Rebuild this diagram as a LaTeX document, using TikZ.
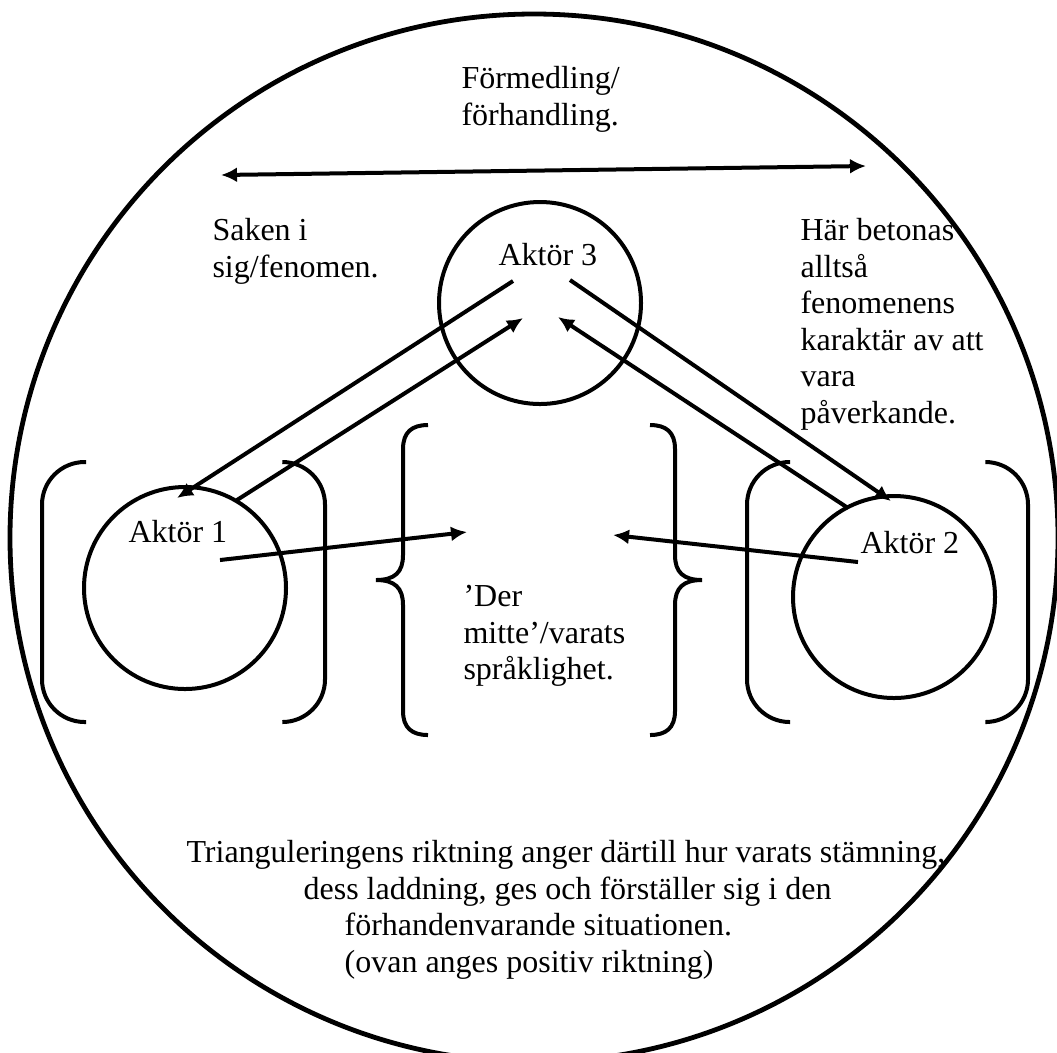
\documentclass[tikz,border=0pt]{standalone}
\usepackage{fontspec}
\setmainfont{Liberation Serif}
\usepackage{tikz}
\usetikzlibrary{arrows.meta, calc, positioning}

\tikzset{
  aktor/.style={draw, circle, line width=1.5pt, minimum size=75.75pt, inner sep=0pt},
  txt/.style={inner sep=0pt, anchor=north west, align=left,
    font=\fontsize{12pt}{13.7pt}\selectfont},
  pil/.style={->, line width=1.5pt},
  klammer/.style={line width=1.5pt, rounded corners=16pt},
}

\begin{document}
\begin{tikzpicture}[>={Latex[length=6pt,width=5.6pt]}, line join=bevel, x=0.375pt, y=-0.375pt]
  \useasboundingbox (0,0) rectangle (1057,1052);
  \node [draw, circle, line width=1.8pt, minimum size=393pt] (helhet) at (534,538) {};

  % aktorerna
  \node [aktor] (a1) at (185,588) {};
  \node [aktor] (a2) at (894,597) {};
  \node [aktor] (a3) at (540,303) {};
  \node [txt, anchor=base west] (a1txt) at (128,542) {Aktör 1};
  \node [txt, anchor=base west] (a2txt) at (860,553) {Aktör 2};
  \node [txt, anchor=base west] (a3txt) at (498,265) {Aktör 3};

  % texter
  \node [txt] (formedling) at (461,66) {Förmedling/\\förhandling.};
  \node [txt] (saken) at (212,218) {Saken i\\sig/fenomen.};
  \node [txt] (betonas) at (800,218) {Här betonas\\alltså\\fenomenens\\karaktär av att\\vara\\påverkande.};
  \node [txt] (mitte) at (463,585) {’Der\\mitte’/varats\\språklighet.};
  \node [txt] (riktning) at (186,840) {Trianguleringens riktning anger därtill hur varats stämning,\\
    \hspace*{43.9pt}dess laddning, ges och förställer sig i den\\
    \hspace*{59.3pt}förhandenvarande situationen.\\
    \hspace*{59.3pt}(ovan anges positiv riktning)};

  % pilar
  \coordinate (fv) at (221,175);
  \coordinate (fh) at (866,166);
  \draw [<->, line width=1.5pt] (fv) -- (fh);

  \coordinate (a3ut1) at (513,281);
  \coordinate (a1in) at (177,498);
  \coordinate (a1ut) at (237,500);
  \coordinate (a3in1) at (523,318);
  \coordinate (a3ut2) at (570,280);
  \coordinate (a2in) at (891,501);
  \coordinate (a2ut) at (848,508);
  \coordinate (a3in2) at (558,317);
  \coordinate (a1mitt) at (220,560);
  \coordinate (mittv) at (467,532);
  \coordinate (a2mitt) at (858,562);
  \coordinate (mitth) at (613,535);
  \draw [pil] (a3ut1) -- (a1in);
  \draw [pil] (a1ut) -- (a3in1);
  \draw [pil] (a3ut2) -- (a2in);
  \draw [pil] (a2ut) -- (a3in2);
  \draw [pil] (a1mitt) -- (mittv);
  \draw [pil] (a2mitt) -- (mitth);

  % parenteser
  \draw [klammer] (86,462) -- (42,462) -- (42,722) -- (86,722);
  \draw [klammer] (283,462) -- (325,462) -- (325,722) -- (283,722);
  \draw [klammer] (790,462) -- (747,462) -- (747,722) -- (790,722);
  \draw [klammer] (987,462) -- (1028,462) -- (1028,722) -- (987,722);

  % klamrar
  \draw [line width=1.5pt] (428,425) .. controls (412,425) and (403,432) .. (403,449)
    -- (403,555) .. controls (403,572) and (395,580) .. (376,580)
    .. controls (395,580) and (403,588) .. (403,605)
    -- (403,711) .. controls (403,728) and (412,735) .. (428,735);
  \draw [line width=1.5pt] (650,425) .. controls (666,425) and (675,432) .. (675,449)
    -- (675,555) .. controls (675,572) and (683,580) .. (702,580)
    .. controls (683,580) and (675,588) .. (675,605)
    -- (675,711) .. controls (675,728) and (666,735) .. (650,735);
\end{tikzpicture}
\end{document}
